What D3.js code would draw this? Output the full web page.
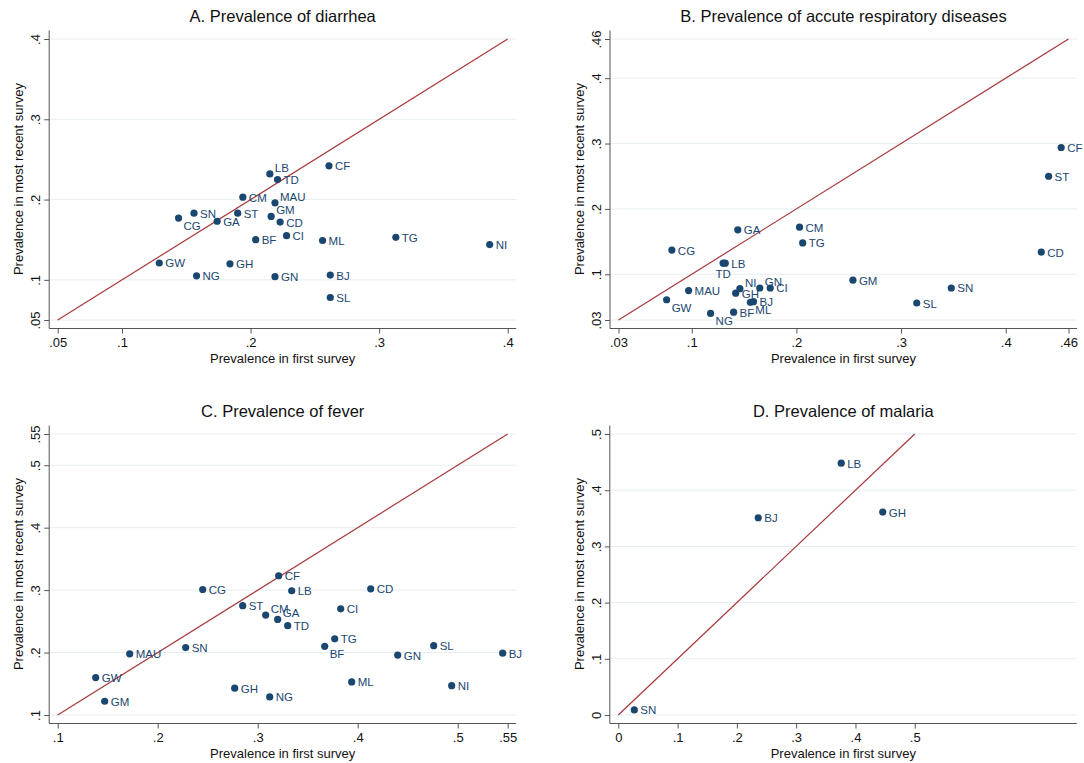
<!DOCTYPE html>
<html>
<head>
<meta charset="utf-8">
<script src="https://cdn.jsdelivr.net/npm/d3@7"></script>
<style>
body { margin: 0; background: #fff; }
text { font-family: Helvetica, Arial, "Liberation Sans", sans-serif; }
</style>
</head>
<body>
<div id="chart"></div>
<script>
var width = 1084,
	height = 763;

// A. diarrhea
var diarCodes  = ["LB", "TD", "CF", "CM", "MAU", "SN", "CG", "GA", "ST", "GM", "CD", "BF", "CI", "ML", "GW", "GH", "NG", "GN", "BJ", "SL", "TG", "NI"];
var diarFirst  = [.215, .221, .261, .194, .219, .156, .144, .174, .190, .216, .223, .204, .228, .256, .129, .184, .158, .219, .262, .262, .313, .386];
var diarRecent = [.232, .225, .242, .203, .196, .183, .177, .173, .183, .179, .172, .150, .155, .149, .121, .120, .105, .104, .106, .078, .153, .144];
var diarTicks  = [.05, .1, .2, .3, .4];

// B. acute respiratory diseases
var ariCodes  = ["GA", "CM", "TG", "CG", "LB", "TD", "NI", "GH", "GN", "CI", "MAU", "GW", "BJ", "ML", "BF", "NG", "GM", "SN", "SL", "CD", "ST", "CF"];
var ariFirst  = [.144, .203, .206, .081, .132, .130, .146, .142, .165, .175, .097, .076, .159, .156, .140, .118, .254, .348, .315, .434, .441, .453];
var ariRecent = [.168, .172, .148, .137, .117, .117, .078, .071, .079, .079, .075, .061, .058, .057, .042, .040, .091, .079, .056, .134, .250, .294];
var ariTicks  = [.03, .1, .2, .3, .4, .46];

// C. fever
var feverCodes  = ["CF", "CG", "LB", "CD", "ST", "CM", "GA", "TD", "CI", "TG", "BF", "SN", "MAU", "GW", "GM", "GH", "NG", "ML", "GN", "SL", "BJ", "NI"];
var feverFirst  = [.321, .245, .334, .413, .285, .308, .320, .330, .383, .377, .367, .228, .172, .138, .147, .277, .312, .394, .440, .476, .545, .494];
var feverRecent = [.323, .301, .299, .302, .275, .260, .253, .243, .270, .222, .210, .208, .198, .160, .122, .143, .129, .153, .196, .211, .199, .147];
var feverTicks  = [.1, .2, .3, .4, .5, .55];

// D. malaria
var malCodes  = ["LB", "BJ", "GH", "SN"];
var malFirst  = [.376, .236, .446, .027];
var malRecent = [.448, .351, .361, .009];
var malTicks  = [0, .1, .2, .3, .4, .5];

var navy = "#1a476f",
	lineColor = "#a8383a",
	gridColor = "#e6eef1",
	axisColor = "#555";

var svg = d3.select("#chart").append("svg")
	.attr("width", width)
	.attr("height", height);

svg.append("rect")
	.attr("width", width)
	.attr("height", height)
	.attr("fill", "#fff");

function fmt(v) {
	return String(+v.toFixed(3)).replace(/^0\./, ".");
}

// clock positions for marker labels (3 = right is the default)
function labelAttrs(pos) {
	if (pos == 2) return {dx: 5, dy: -2, anchor: "start"};
	if (pos == 4) return {dx: 5, dy: 12, anchor: "start"};
	if (pos == 6) return {dx: 0, dy: 15, anchor: "middle"};
	return {dx: 6, dy: 4.5, anchor: "start"};
}

function drawPanel(p) {
	var m = 8.5;
	var x = d3.scaleLinear().domain(p.xDomain).range([p.left, p.left + 450]);
	var y = d3.scaleLinear().domain(p.yDomain).range([p.top + 281, p.top]);

	var g = svg.append("g").attr("class", "panel");
	var x0 = p.left - m, x1 = p.left + 450 + m,
		y0 = p.top + 281 + m, y1 = p.top - m;

	// grid
	g.selectAll(".grid")
		.data(p.yTicks)
		.enter()
		.append("line")
		.attr("class", "grid")
		.attr("x1", x0)
		.attr("x2", x1)
		.attr("y1", function(d) { return y(d); })
		.attr("y2", function(d) { return y(d); })
		.attr("stroke", gridColor)
		.attr("stroke-width", 1);

	var xAxis = g.append("g")
		.attr("transform", "translate(0," + y0 + ")")
		.call(d3.axisBottom(x).tickValues(p.xTicks).tickFormat(fmt).tickSizeInner(5).tickSizeOuter(0).tickPadding(4));
	xAxis.select(".domain").attr("d", "M" + x0 + ",0H" + x1);

	var yAxis = g.append("g")
		.attr("transform", "translate(" + x0 + ",0)")
		.call(d3.axisLeft(y).tickValues(p.yTicks).tickFormat(fmt).tickSizeInner(5).tickSizeOuter(0));
	yAxis.select(".domain").attr("d", "M0," + y1 + "V" + y0);
	yAxis.selectAll(".tick text")
		.attr("x", null)
		.attr("dy", null)
		.attr("text-anchor", "middle")
		.attr("transform", "translate(-9,0) rotate(-90)");

	[xAxis, yAxis].forEach(function(a) {
		a.selectAll("path, line").attr("stroke", axisColor);
		a.selectAll("text")
			.attr("fill", "#111")
			.style("font-size", "13px")
			.style("font-family", "Helvetica, Arial, 'Liberation Sans', sans-serif");
	});

	// 45 degree line
	g.append("line")
		.attr("x1", x(p.line[0]))
		.attr("y1", y(p.line[0]))
		.attr("x2", x(p.line[1]))
		.attr("y2", y(p.line[1]))
		.attr("stroke", lineColor)
		.attr("stroke-width", 1.2);

	var pts = p.codes.map(function(c, i) {
		return {code: c, first: p.first[i], recent: p.recent[i]};
	});

	g.selectAll("circle")
		.data(pts)
		.enter()
		.append("circle")
		.attr("cx", function(d) { return x(d.first); })
		.attr("cy", function(d) { return y(d.recent); })
		.attr("r", 3.6)
		.attr("fill", navy);

	g.selectAll(".mlabel")
		.data(pts)
		.enter()
		.append("text")
		.attr("class", "mlabel")
		.each(function(d) {
			var a = labelAttrs(p.pos[d.code] || 3);
			d3.select(this)
				.attr("x", x(d.first) + a.dx)
				.attr("y", y(d.recent) + a.dy)
				.attr("text-anchor", a.anchor);
		})
		.attr("fill", navy)
		.style("font-size", "11.5px")
		.text(function(d) { return d.code; });

	// titles
	g.append("text")
		.attr("x", p.left + 225)
		.attr("y", p.top - 17)
		.attr("text-anchor", "middle")
		.attr("fill", "#111")
		.style("font-size", "16.5px")
		.text(p.title);

	g.append("text")
		.attr("x", p.left + 225)
		.attr("y", y0 + 34)
		.attr("text-anchor", "middle")
		.attr("fill", "#111")
		.style("font-size", "13px")
		.text("Prevalence in first survey");

	g.append("text")
		.attr("transform", "translate(" + (x0 - 26) + "," + (p.top + 140) + ") rotate(-90)")
		.attr("text-anchor", "middle")
		.attr("fill", "#111")
		.style("font-size", "13px")
		.text("Prevalence in most recent survey");
}

drawPanel({
	title: "A. Prevalence of diarrhea",
	left: 57.7, top: 39,
	xDomain: [.05, .4], yDomain: [.05, .4],
	xTicks: diarTicks, yTicks: diarTicks,
	line: [.05, .4],
	codes: diarCodes, first: diarFirst, recent: diarRecent,
	pos: {LB: 2, MAU: 2, GM: 2, CG: 4}
});

drawPanel({
	title: "B. Prevalence of accute respiratory diseases",
	left: 618.5, top: 39,
	xDomain: [.03, .46], yDomain: [.03, .46],
	xTicks: ariTicks, yTicks: ariTicks,
	line: [.03, .46],
	codes: ariCodes, first: ariFirst, recent: ariRecent,
	pos: {TD: 6, NI: 2, GN: 2, GW: 4, ML: 4, NG: 4}
});

drawPanel({
	title: "C. Prevalence of fever",
	left: 57.7, top: 434,
	xDomain: [.1, .55], yDomain: [.1, .55],
	xTicks: feverTicks, yTicks: feverTicks,
	line: [.1, .55],
	codes: feverCodes, first: feverFirst, recent: feverRecent,
	pos: {CM: 2, GA: 2, BF: 4}
});

drawPanel({
	title: "D. Prevalence of malaria",
	left: 618.3, top: 434,
	xDomain: [0, .759], yDomain: [0, .5],
	xTicks: malTicks, yTicks: malTicks,
	line: [0, .5],
	codes: malCodes, first: malFirst, recent: malRecent,
	pos: {}
});
</script>
</body>
</html>
